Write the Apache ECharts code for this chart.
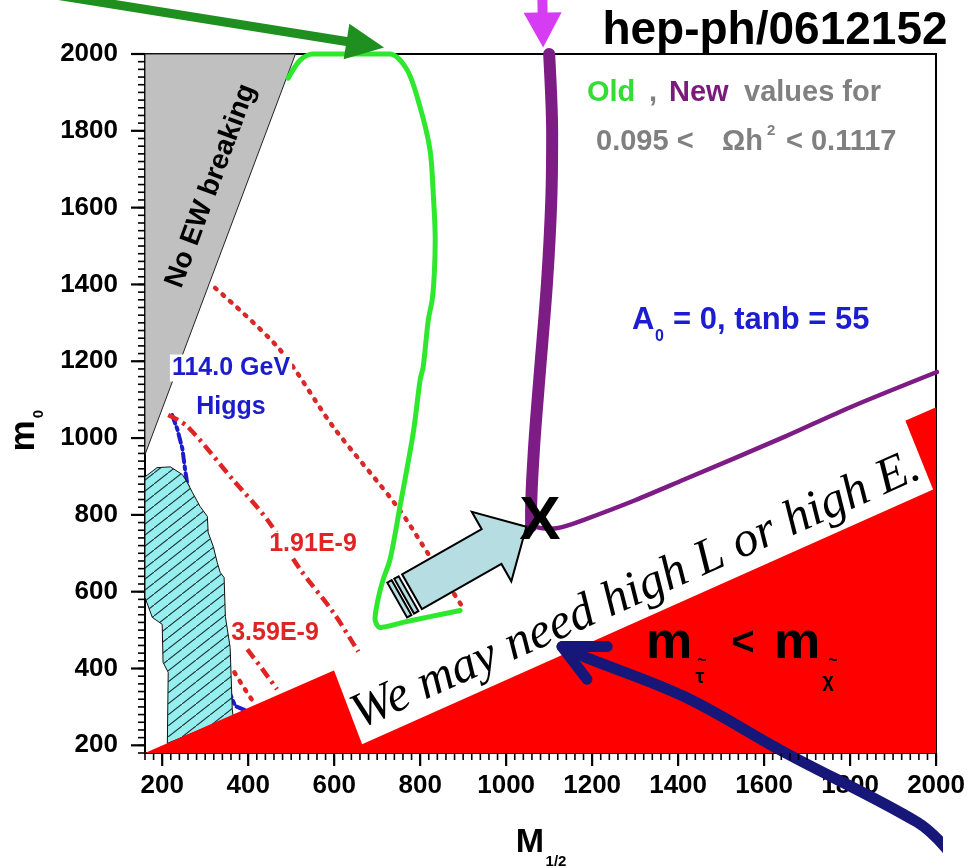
<!DOCTYPE html>
<html>
<head>
<meta charset="utf-8">
<script src="https://cdn.jsdelivr.net/npm/echarts@6/dist/echarts.min.js"></script>
<style>
  html, body { margin: 0; background: #fff; }
  #chart { width: 968px; height: 868px; }
</style>
</head>
<body>
<div id="chart"></div>
<script>
// axis ranges and ticks
const xRange = [160, 2000];
const yRange = [180, 2000];
const xTicks = [200, 400, 600, 800, 1000, 1200, 1400, 1600, 1800, 2000];
const yTicks = [200, 400, 600, 800, 1000, 1200, 1400, 1600, 1800, 2000];
const xMinor = [];
for (let v = 160; v <= 2000; v += 20) xMinor.push(v);
const yMinor = [];
for (let v = 180; v <= 2000; v += 20) yMinor.push(v);

// excluded regions (M1/2, m0)
const noEwX = [160, 510, 160];
const noEwY = [2000, 2000, 957];
const hatchX = [160, 188, 219, 247, 258, 270, 288, 305, 307, 319, 328, 335, 344, 347, 358, 363, 365, 212, 214, 202, 200, 177, 160];
const hatchY = [899, 923, 925, 905, 885, 859, 822, 796, 754, 717, 676, 650, 637, 535, 455, 294, 275, 205, 390, 416, 515, 533, 585];
const stauX = [160, 2000, 2000];
const stauY = [180, 1080, 180];

// relic density strips
const oldX = [493, 521, 551, 640, 730, 770, 800, 823, 830, 835, 833, 828, 819, 807, 800, 784, 753, 730, 714, 702, 695, 707, 760, 823, 893];
const oldY = [1937, 1984, 2000, 2000, 2000, 1958, 1861, 1750, 1646, 1516, 1430, 1360, 1308, 1185, 1152, 1014, 821, 684, 632, 580, 528, 507, 520, 535, 551];
const newThickX = [1100, 1107, 1105, 1095, 1077, 1065, 1058, 1058];
const newThickY = [2000, 1794, 1620, 1404, 1152, 977, 806, 770];
const newThinX = [1058, 1072, 1105, 1130, 1181, 1300, 1414, 1647, 1802, 2002];
const newThinY = [780, 768, 764, 768, 787, 838, 892, 1003, 1081, 1172];

// g-2 and Higgs contours
const amuDotX = [323, 474, 598, 747, 823, 898];
const amuDotY = [1391, 1230, 1029, 821, 691, 561];
const amu191X = [214, 258, 365, 444, 521, 598, 656];
const amu191Y = [1060, 1031, 891, 788, 658, 546, 444];
const amu359X = [398, 428, 467];
const amu359Y = [450, 406, 346];
const amuLowDotX = [368, 390, 409];
const amuLowDotY = [390, 350, 318];
const higgsX = [223, 235, 247, 253, 260, 288, 323, 353, 370, 398];
const higgsY = [1060, 1024, 972, 920, 868, 705, 528, 346, 302, 289];

// annotations (data units)
const boxX = [598, 1926, 1993, 665];
const boxY = [400, 1052, 866, 203];
const pointerArrow = [[781, 600], [1047, 769]];
const greenArrow = [[-84, 2160], [716, 2017]];
const magentaArrow = [[1084, 2166], [1086, 2017]];
const navyX = [2060, 2022, 1956, 1647, 1414, 1181, 1130];
const navyY = [-130, -66, 0, 182, 327, 431, 457];
const navyHeadX = [1235, 1130, 1188];
const navyHeadY = [457, 457, 372];

const FONT = '"Liberation Sans", Arial, sans-serif';
const chart = echarts.init(document.getElementById('chart'));

function hatchPattern() {
  const c = document.createElement('canvas');
  c.width = 14; c.height = 11;
  const g = c.getContext('2d');
  g.fillStyle = '#96eeee';
  g.fillRect(0, 0, 14, 11);
  g.strokeStyle = '#1c3434';
  g.lineWidth = 1.1;
  g.beginPath();
  g.moveTo(-1, 11 + 11 / 14);
  g.lineTo(15, -11 / 14);
  g.stroke();
  return c;
}

function polygon(xs, ys, style, z) {
  return {
    type: 'custom', z, silent: true,
    data: [[xs[0], ys[0]]],
    renderItem: (params, api) => ({
      type: 'polygon',
      shape: { points: xs.map((x, i) => api.coord([x, ys[i]])) },
      style
    })
  };
}

function curve(xs, ys, lineStyle, z, smooth) {
  return {
    type: 'line', z, silent: true, symbol: 'none', clip: false,
    smooth: smooth || false,
    data: xs.map((x, i) => [x, ys[i]]),
    lineStyle: Object.assign({ cap: 'round', join: 'round' }, lineStyle)
  };
}

function arrow(ends, o) {
  return {
    type: 'custom', z: o.z, silent: true,
    data: [[ends[0][0], ends[0][1], ends[1][0], ends[1][1]]],
    encode: { x: [0, 2], y: [1, 3] },
    renderItem: (params, api) => {
      const p0 = api.coord([api.value(0), api.value(1)]);
      const p1 = api.coord([api.value(2), api.value(3)]);
      const dx = p1[0] - p0[0], dy = p1[1] - p0[1];
      const L = Math.hypot(dx, dy);
      const ux = dx / L, uy = dy / L, nx = -uy, ny = ux;
      const pt = (s, t) => [p0[0] + ux * s + nx * t, p0[1] + uy * s + ny * t];
      const b = L - o.headL, h = o.shaftW / 2, hh = o.headW / 2;
      const style = { fill: o.fill, stroke: o.stroke || null, lineWidth: o.lineWidth || 0 };
      const children = [{
        type: 'polygon',
        shape: { points: [pt(0, -h), pt(b, -h), pt(b, -hh), pt(L, 0), pt(b, hh), pt(b, h), pt(0, h)] },
        style
      }];
      (o.stripes || []).forEach(([a, c]) => children.push({
        type: 'polygon',
        shape: { points: [pt(a, -h), pt(c, -h), pt(c, h), pt(a, h)] },
        style
      }));
      return { type: 'group', children };
    }
  };
}

function txt(text, x, y, size, fill, extra) {
  const s = Object.assign({
    text, fill: fill || '#000', font: `bold ${size}px ${FONT}`,
    align: 'center', verticalAlign: 'middle', textAlign: 'center', textVerticalAlign: 'middle'
  }, extra && extra.style);
  return Object.assign({ type: 'text', x, y, z: 30, silent: true, style: s }, extra && extra.el);
}
const left = { style: { align: 'left', textAlign: 'left' } };

const tickLabel = { color: '#000', fontSize: 26, fontWeight: 'bold', fontFamily: FONT, formatter: v => String(v) };
const frameLine = { show: true, onZero: false, lineStyle: { color: '#000', width: 2 } };

function axis(dim, position, extra) {
  const range = dim === 'x' ? xRange : yRange;
  return Object.assign({
    type: 'value', position, min: range[0], max: range[1],
    splitLine: { show: false },
    axisLine: frameLine,
    axisTick: { show: false },
    axisLabel: { show: false }
  }, extra);
}

const texts = [
  txt('hep-ph/0612152', 775, 31, 46),
  txt('Old', 587, 93, 29, '#33dd33', left),
  txt(',', 649, 93, 29, '#808080', left),
  txt('New', 669, 93, 29, '#7a1a7a', left),
  txt('values for', 744, 93, 29, '#808080', left),
  txt('0.095 <', 596, 142, 29, '#808080', left),
  txt('Ωh', 722, 142, 29, '#808080', left),
  txt('2', 767, 131, 15, '#808080', left),
  txt('< 0.1117', 786, 142, 29, '#808080', left),
  txt('A', 632, 320, 31, '#1c1cd0', left),
  txt('0', 655, 337, 16, '#1c1cd0', left),
  txt('= 0, tanb = 55', 673, 320, 31, '#1c1cd0', left),
  txt('No EW breaking', 211, 186, 28, '#000', { el: { rotation: 69.7 * Math.PI / 180 } }),
  txt('114.0 GeV', 231, 368, 25, '#1c1ccc', { style: { backgroundColor: '#fff', padding: [1, 2] } }),
  txt('Higgs', 231, 407, 25, '#1c1ccc'),
  txt('1.91E-9', 313, 544, 25, '#e02424', { style: { backgroundColor: '#fff', padding: [0, 1] } }),
  txt('3.59E-9', 275, 633, 25, '#e02424'),
  txt('We may need high L or high E.', 636, 591, 50, '#000', {
    style: { font: `italic 50px "Liberation Serif", "DejaVu Serif", serif` },
    el: { rotation: 24.07 * Math.PI / 180, z: 8 }
  }),
  txt('X', 540, 522, 62, '#000', { el: { z: 12 } }),
  txt('m', 669, 644, 52),
  txt('τ', 700, 677, 20),
  txt('~', 702, 661, 16),
  txt('<', 743, 644, 40),
  txt('m', 797, 644, 52),
  txt('χ', 828, 681, 20),
  txt('~', 833, 661, 16),
  txt('m', 24, 436, 35, '#000', { el: { rotation: Math.PI / 2 } }),
  txt('0', 39, 414, 15, '#000', { el: { rotation: Math.PI / 2 } }),
  txt('M', 530, 843, 34),
  txt('1/2', 556, 862, 15)
];

chart.setOption({
  animation: false,
  grid: { left: 145, right: 31, top: 54, bottom: 115 },
  xAxis: [
    axis('x', 'bottom', { axisLabel: Object.assign({ show: true, customValues: xTicks, margin: 20 }, tickLabel) }),
    axis('x', 'top')
  ],
  yAxis: [
    axis('y', 'left', { axisLabel: Object.assign({ show: true, customValues: yTicks, margin: 27 }, tickLabel) }),
    axis('y', 'right')
  ],
  series: [
    polygon(noEwX, noEwY, { fill: '#c0c0c0', stroke: '#222', lineWidth: 1 }, 1),
    curve(higgsX, higgsY, { color: '#1c1ccc', width: 4, type: [9, 4, 3, 4] }, 2),
    polygon(hatchX, hatchY, { fill: { image: hatchPattern(), repeat: 'repeat' }, stroke: '#111', lineWidth: 1 }, 3),
    curve(amuDotX, amuDotY, { color: '#d82828', width: 4.5, type: [2, 8], cap: 'round' }, 4, 0.3),
    curve(amu191X, amu191Y, { color: '#e02424', width: 4.5, type: [11, 5, 3, 5], cap: 'butt' }, 4, 0.3),
    curve(amu359X, amu359Y, { color: '#e02424', width: 4.5, type: [11, 5, 3, 5], cap: 'butt' }, 4),
    curve(amuLowDotX, amuLowDotY, { color: '#e02424', width: 4.5, type: [2, 8], cap: 'round' }, 4),
    polygon(stauX, stauY, { fill: '#ff0000' }, 5),
    polygon(boxX, boxY, { fill: '#ffffff' }, 6),
    curve(oldX, oldY, { color: '#2ee82e', width: 5 }, 7, 0.3),
    curve(newThickX, newThickY, { color: '#7c1c84', width: 12 }, 7, 0.3),
    curve(newThinX, newThinY, { color: '#7c1c84', width: 4.5 }, 7, 0.3),
    arrow(pointerArrow, { z: 9, shaftW: 40, headL: 40, headW: 80, fill: '#b5dde2', stroke: '#000', lineWidth: 2, stripes: [[-4, -9], [-12, -17]] }),
    arrow(greenArrow, { z: 11, shaftW: 9, headL: 38, headW: 36, fill: '#1f8f1f' }),
    arrow(magentaArrow, { z: 11, shaftW: 10, headL: 35, headW: 38, fill: '#d63cf2' }),
    curve(navyX, navyY, { color: '#17177a', width: 11 }, 21, 0.35),
    curve(navyHeadX, navyHeadY, { color: '#17177a', width: 11 }, 21)
  ],
  graphic: { elements: texts }
});

// tick marks: placed through the axes' own scale once the chart is laid out
const toPx = (x, y) => chart.convertToPixel({ xAxisIndex: 0, yAxisIndex: 0 }, [x, y]);
function tickRects(dim, values, len, width) {
  return values.map(v => {
    const p = dim === 'x' ? toPx(v, yRange[0]) : toPx(xRange[0], v);
    const shape = dim === 'x'
      ? { x: p[0] - width / 2, y: p[1], width, height: len }
      : { x: p[0] - len, y: p[1] - width / 2, width: len, height: width };
    return { type: 'rect', shape, style: { fill: '#000' }, z: 25, silent: true };
  });
}
const tickEls = [].concat(
  tickRects('x', xMinor, 7, 1.6),
  tickRects('x', xTicks, 13, 2.2),
  tickRects('y', yMinor, 7, 1.6),
  tickRects('y', yTicks, 14, 2.2)
);
chart.setOption({ graphic: { elements: texts.concat(tickEls) } }, { replaceMerge: ['graphic'] });

window.addEventListener('resize', () => chart.resize());
</script>
</body>
</html>
